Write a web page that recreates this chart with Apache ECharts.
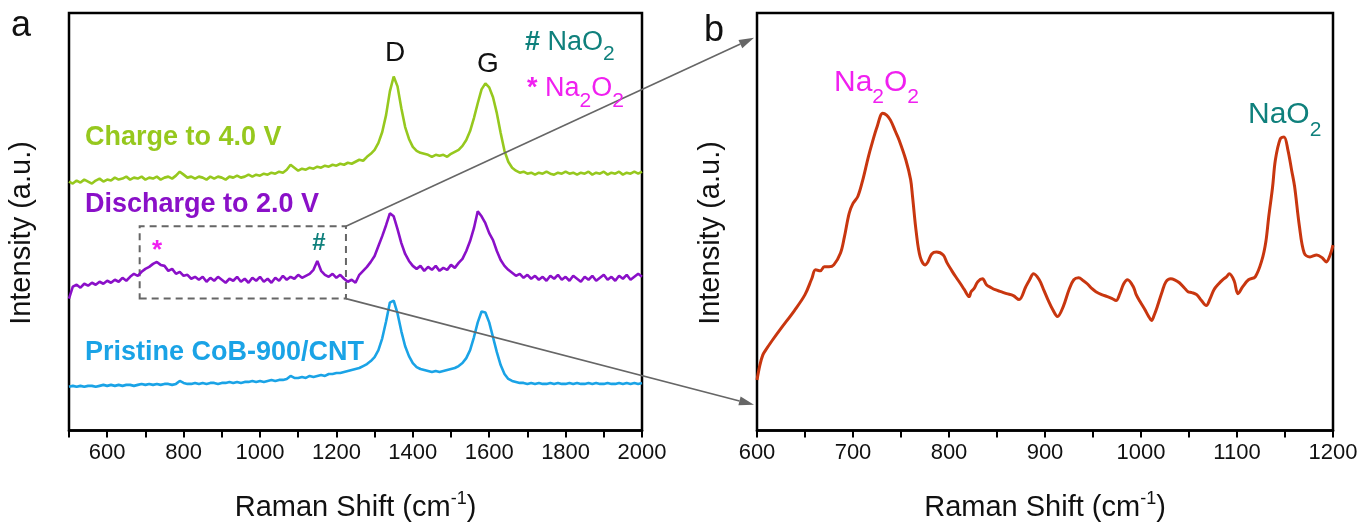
<!DOCTYPE html>
<html>
<head>
<meta charset="utf-8">
<script src="https://cdn.jsdelivr.net/npm/echarts@6/dist/echarts.min.js"></script>
<style>
html,body{margin:0;padding:0;background:#fff;}
#chart{width:1367px;height:527px;}
</style>
</head>
<body>
<div id="chart"></div>
<script>
// ---------- DATA ----------
// Panel a: Raman shift (cm-1), shared x grid
const shiftA = [
 500,510,520,530,540,550,560,570,580,590,
 600,610,620,630,640,650,660,670,680,690,
 700,710,720,730,740,750,760,770,780,790,
 800,810,820,830,840,850,860,870,880,890,
 900,910,920,930,940,950,960,970,980,990,
 1000,1010,1020,1030,1040,1050,1060,1070,1080,1090,
 1100,1110,1120,1130,1140,1150,1160,1170,1180,1190,
 1200,1210,1220,1230,1240,1250,1260,1270,1280,1290,
 1300,1310,1320,1330,1340,1350,1360,1370,1380,1390,
 1400,1410,1420,1430,1440,1450,1460,1470,1480,1490,
 1500,1510,1520,1530,1540,1550,1560,1570,1580,1590,
 1600,1610,1620,1630,1640,1650,1660,1670,1680,1690,
 1700,1710,1720,1730,1740,1750,1760,1770,1780,1790,
 1800,1810,1820,1830,1840,1850,1860,1870,1880,1890,
 1900,1910,1920,1930,1940,1950,1960,1970,1980,1990,
 2000];

// Charge to 4.0 V (offset intensity, a.u.)
const chargeA = [
 251,249,252,250,253,251,249,252,254,251,
 253,252,255,253,254,256,253,255,254,256,
 253,255,254,256,253,255,256,254,257,261,
 258,255,256,254,256,255,253,256,254,256,
 255,253,256,255,257,255,256,258,256,258,
 257,259,258,260,259,261,260,263,268,265,
 262,264,263,265,264,266,265,267,266,268,
 267,269,268,270,269,271,273,272,276,279,
 283,290,301,318,342,357,347,325,306,294,
 286,282,280,279,278,276,278,277,278,276,
 279,281,283,287,293,302,315,330,344,350,
 346,336,320,300,282,271,265,262,260,261,
 259,260,258,260,259,261,259,258,260,259,
 261,259,260,258,260,259,261,258,260,259,
 261,258,260,259,261,258,260,259,261,259,
 261];

// Discharge to 2.0 V
const dischargeA = [
 133,145,147,144,148,146,149,147,150,148,
 151,149,152,150,154,151,155,158,156,160,
 163,165,168,170,167,166,161,163,158,160,
 156,157,153,155,152,155,150,154,151,155,
 152,149,153,151,155,150,153,149,154,151,
 155,150,153,149,154,151,156,152,155,153,
 157,154,156,158,162,171,161,157,155,158,
 154,157,153,150,152,149,157,161,165,170,
 176,186,196,207,219,216,203,189,178,171,
 166,163,166,161,165,162,166,161,164,162,
 167,164,169,173,181,191,204,221,216,209,
 199,192,181,172,166,162,159,156,158,154,
 157,153,156,152,155,151,156,153,157,152,
 155,151,156,153,150,155,152,156,151,154,
 157,152,155,151,156,153,157,152,155,158,
 155];

// Pristine CoB-900/CNT
const pristineA = [
 44,45,44,45,44,45,45,44,45,46,
 45,46,45,46,45,46,46,45,46,47,
 46,47,46,47,46,47,47,46,47,50,
 48,47,47,48,47,48,47,48,48,47,
 48,48,49,48,49,48,49,49,50,49,
 50,49,50,51,50,51,51,52,55,53,
 53,54,53,55,54,55,56,55,57,57,
 58,58,59,60,61,62,63,65,67,70,
 74,81,93,110,129,131,118,100,85,75,
 68,64,62,61,60,59,60,59,60,61,
 62,63,65,68,73,81,94,109,120,119,
 109,94,79,66,57,52,50,49,48,48,
 47,48,47,48,47,47,48,47,48,47,
 47,48,47,48,47,47,48,47,48,47,
 47,48,47,47,48,47,48,47,48,47,
 48];

// Panel b: zoomed discharge spectrum [shift, intensity]
const zoomSpectrum = [
 [600,51],[603,66],[606,76],[609,81],[616,91],[625,103],[639,121],[650,137],[657,153],[661,162],
 [666,161],[670,165],[675,165],[680,167],[687,179],[691,195],[696,219],[700,229],[705,236],[710,252],
 [716,276],[720,290],[725,306],[731,320],[735,318],[739,313],[744,302],[748,293],[755,273],[760,253],
 [762,236],[766,199],[770,175],[775,167],[778,170],[782,178],[787,180],[794,177],[798,169],[803,161],
 [807,155],[812,148],[816,142],[821,135],[823,140],[826,143],[830,150],[835,153],[839,147],[844,144],
 [848,142],[854,140],[860,138],[867,136],[873,132],[880,145],[884,152],[888,158],[894,152],[899,141],
 [903,132],[908,122],[913,115],[919,125],[925,142],[930,152],[935,154],[940,151],[944,148],[949,143],
 [953,140],[959,137],[965,135],[970,133],[974,131],[978,138],[982,148],[986,152],[992,145],[995,137],
 [999,130],[1004,122],[1008,115],[1011,111],[1014,117],[1017,125],[1022,140],[1026,150],[1031,153],[1035,152],
 [1040,149],[1045,144],[1049,140],[1053,139],[1058,137],[1063,131],[1068,126],[1072,133],[1076,142],[1081,148],
 [1085,152],[1089,155],[1092,158],[1097,151],[1101,138],[1106,145],[1112,152],[1119,155],[1126,172],[1130,190],
 [1133,215],[1137,245],[1140,273],[1145,294],[1149,296],[1153,283],[1157,262],[1160,246],[1165,206],[1170,179],
 [1176,175],[1183,177],[1189,174],[1193,170],[1197,177],[1200,187]];

// Zoom window on the discharge curve (shift range, intensity range)
const zoomBoxShift = [685, 1225];
const zoomBoxIntensity = [133, 206];

const seriesNames = ['Charge to 4.0 V', 'Discharge to 2.0 V', 'Pristine CoB-900/CNT'];

// ---------- STYLE ----------
const FONT = '"Liberation Sans", Arial, Helvetica, sans-serif';
const C_GREEN = '#96C81E', C_PURPLE = '#8A10C8', C_BLUE = '#1AA3E6', C_RED = '#C8360F';
const C_TEAL = '#0F807C', C_MAG = '#F020F0', C_GREY = '#666666';

const pairs = (xs, ys) => xs.map((x, i) => [x, ys[i]]);

function xAxisCfg(grid, min, max, interval, labelStep) {
  return {
    gridIndex: grid, type: 'value', min: min, max: max, interval: interval,
    axisLine: {show: true, lineStyle: {color: '#000', width: 2.5}},
    axisTick: {show: true, inside: false, length: 7, lineStyle: {color: '#000', width: 2}},
    axisLabel: {color: '#111', fontFamily: FONT, fontSize: 22, margin: 11,
      formatter: v => (v % labelStep === 0 ? String(v) : '')},
    splitLine: {show: false},
    name: '{m|Raman Shift (cm}{sup|-1}{m|)}',
    nameLocation: 'middle', nameGap: 60,
    nameTextStyle: {fontFamily: FONT, color: '#111', rich: {
      m: {fontFamily: FONT, fontSize: 29, lineHeight: 34, color: '#111'},
      sup: {fontFamily: FONT, fontSize: 18, lineHeight: 18, verticalAlign: 'top', color: '#111'}
    }}
  };
}
function yAxisCfg(grid) {
  return {gridIndex: grid, type: 'value', min: 0, max: 421,
    axisLine: {show: false}, axisTick: {show: false}, axisLabel: {show: false}, splitLine: {show: false}};
}

const option = {
  animation: false,
  backgroundColor: '#fff',
  grid: [
    {left: 69, top: 13, width: 573, height: 421, show: true, borderColor: '#000', borderWidth: 2.5},
    {left: 757, top: 13, width: 576, height: 421, show: true, borderColor: '#000', borderWidth: 2.5}
  ],
  xAxis: [xAxisCfg(0, 500, 2000, 100, 200), xAxisCfg(1, 600, 1200, 50, 100)],
  yAxis: [yAxisCfg(0), yAxisCfg(1)],
  series: [
    {name: seriesNames[0], type: 'line', xAxisIndex: 0, yAxisIndex: 0, data: pairs(shiftA, chargeA),
      showSymbol: false, lineStyle: {color: C_GREEN, width: 2.6}, itemStyle: {color: C_GREEN}},
    {name: seriesNames[1], type: 'line', xAxisIndex: 0, yAxisIndex: 0, data: pairs(shiftA, dischargeA),
      showSymbol: false, lineStyle: {color: C_PURPLE, width: 2.6}, itemStyle: {color: C_PURPLE},
      markArea: {silent: true,
        itemStyle: {color: 'rgba(0,0,0,0)', borderColor: C_GREY, borderWidth: 2, borderType: [7, 5]},
        data: [[{coord: [zoomBoxShift[0], zoomBoxIntensity[0]]}, {coord: [zoomBoxShift[1], zoomBoxIntensity[1]]}]]}},
    {name: seriesNames[2], type: 'line', xAxisIndex: 0, yAxisIndex: 0, data: pairs(shiftA, pristineA),
      showSymbol: false, lineStyle: {color: C_BLUE, width: 2.6}, itemStyle: {color: C_BLUE}},
    {name: 'Zoom', type: 'line', xAxisIndex: 1, yAxisIndex: 1, data: zoomSpectrum, smooth: 0.35,
      showSymbol: false, lineStyle: {color: C_RED, width: 3}, itemStyle: {color: C_RED}}
  ]
};

const chart = echarts.init(document.getElementById('chart'), null, {renderer: 'canvas'});
chart.setOption(option);

// ---------- ANNOTATIONS ----------
function text(x, y, str, style, extra) {
  return Object.assign({type: 'text', x: x, y: y, silent: true, z: 100,
    style: Object.assign({text: str, fontFamily: FONT, fill: '#111'}, style)}, extra || {});
}
const g = [];
g.push(text(21, 26, 'a', {fontSize: 36, textAlign: 'center', textVerticalAlign: 'middle'}));
g.push(text(714, 31, 'b', {fontSize: 36, textAlign: 'center', textVerticalAlign: 'middle'}));
g.push(text(22, 233, 'Intensity (a.u.)', {fontSize: 29, textAlign: 'center', textVerticalAlign: 'middle'}, {rotation: Math.PI / 2}));
g.push(text(711, 233, 'Intensity (a.u.)', {fontSize: 29, textAlign: 'center', textVerticalAlign: 'middle'}, {rotation: Math.PI / 2}));

g.push(text(85, 138, seriesNames[0], {fontSize: 27, fontWeight: 'bold', fill: C_GREEN, textVerticalAlign: 'middle'}));
g.push(text(85, 205, seriesNames[1], {fontSize: 27, fontWeight: 'bold', fill: C_PURPLE, textVerticalAlign: 'middle'}));
g.push(text(85, 353, seriesNames[2], {fontSize: 27, fontWeight: 'bold', fill: C_BLUE, textVerticalAlign: 'middle'}));

g.push(text(395, 53, 'D', {fontSize: 28, textAlign: 'center', textVerticalAlign: 'middle'}));
g.push(text(488, 64, 'G', {fontSize: 28, textAlign: 'center', textVerticalAlign: 'middle'}));

g.push(text(157, 251, '*', {fontSize: 26, fontWeight: 'bold', fill: C_MAG, textAlign: 'center', textVerticalAlign: 'middle'}));
g.push(text(319, 243, '#', {fontSize: 24, fontWeight: 'bold', fill: C_TEAL, textAlign: 'center', textVerticalAlign: 'middle'}));

function chem(parts, color, mainSize, subSize, subLH) {
  const rich = {
    m: {fontFamily: FONT, fontSize: mainSize, lineHeight: mainSize, verticalAlign: 'top', fill: color},
    h: {fontFamily: FONT, fontSize: mainSize, lineHeight: mainSize, verticalAlign: 'top', fontWeight: 'bold', fill: color},
    s: {fontFamily: FONT, fontSize: subSize, lineHeight: subLH, fill: color}
  };
  return {text: parts, rich: rich, fill: color, textVerticalAlign: 'top'};
}
g.push(text(525, 29, '', chem('{h|# }{m|NaO}{s|2}', C_TEAL, 27, 21, 50)));
g.push(text(527, 75, '', chem('{h|* }{m|Na}{s|2}{m|O}{s|2}', C_MAG, 27, 21, 52)));
g.push(text(834, 68, '', chem('{m|Na}{s|2}{m|O}{s|2}', C_MAG, 30, 21, 58)));
g.push(text(1248, 100, '', chem('{m|NaO}{s|2}', C_TEAL, 30, 21, 60)));

// Zoom connector arrows
const cTop = chart.convertToPixel({gridIndex: 0}, [zoomBoxShift[1], zoomBoxIntensity[1]]);
const cBot = chart.convertToPixel({gridIndex: 0}, [zoomBoxShift[1], zoomBoxIntensity[0]]);
const tTop = chart.convertToPixel({gridIndex: 1}, [600, 396]);
const tBot = chart.convertToPixel({gridIndex: 1}, [600, 26]);
function arrow(a, b) {
  const tip = [b[0] - 3, b[1]];
  const dx = tip[0] - a[0], dy = tip[1] - a[1];
  const len = Math.sqrt(dx * dx + dy * dy), ux = dx / len, uy = dy / len;
  const L = 15, W = 4.5;
  const base = [tip[0] - ux * L, tip[1] - uy * L];
  g.push({type: 'line', silent: true, z: 90,
    shape: {x1: a[0], y1: a[1], x2: base[0], y2: base[1]},
    style: {stroke: C_GREY, lineWidth: 1.6}});
  g.push({type: 'polygon', silent: true, z: 90,
    shape: {points: [tip, [base[0] - uy * W, base[1] + ux * W], [base[0] + uy * W, base[1] - ux * W]]},
    style: {fill: C_GREY}});
}
arrow(cTop, tTop);
arrow(cBot, tBot);

chart.setOption({graphic: g});
</script>
</body>
</html>
